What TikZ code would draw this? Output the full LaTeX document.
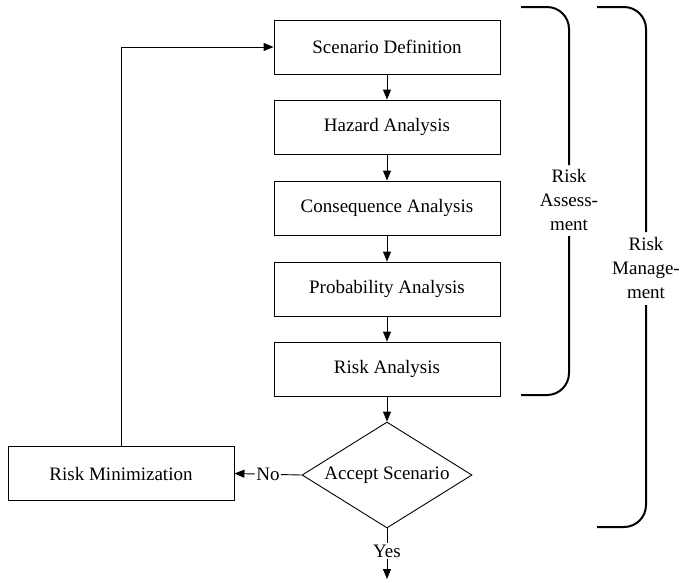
\documentclass[tikz,border=0pt]{standalone}
\usepackage{fontspec}
\setmainfont{Liberation Serif}
\usetikzlibrary{shapes.geometric,arrows.meta}
\begin{document}
\begin{tikzpicture}[x=1pt,y=-1pt,
  txt/.style={font=\fontsize{19}{24}\selectfont},
  stepbox/.style={draw,line width=0.9pt,minimum width=226pt,minimum height=54pt,inner sep=0pt,txt},
  decision/.style={draw,line width=0.9pt,diamond,aspect=1.6,inner sep=0pt,minimum width=170pt,minimum height=106pt,txt},
  flow/.style={line width=0.9pt,-{Triangle[length=10pt,width=8pt]}},
  bracket/.style={line width=2pt,rounded corners=22pt},
  lbl/.style={txt,fill=white,inner sep=1.5pt},
  brtext/.style={txt,align=center,inner sep=0pt}]
\useasboundingbox (0,0) rectangle (688,582);

% main chain of analysis steps
\node[stepbox] (sd) at (387,47)  {Scenario Definition};
\node[stepbox] (ha) at (387,127) {Hazard Analysis};
\node[stepbox] (ca) at (387,208) {Consequence Analysis};
\node[stepbox] (pa) at (387,289) {Probability Analysis};
\node[stepbox] (ra) at (387,369) {Risk Analysis};
\node[decision] (ac) at (387,475) {Accept Scenario};
\node[stepbox] (rm) at (121,473.5) {Risk Minimization};
\coordinate (out) at (387,579);

\draw[flow] (sd) -- (ha);
\draw[flow] (ha) -- (ca);
\draw[flow] (ca) -- (pa);
\draw[flow] (pa) -- (ra);
\draw[flow] (ra) -- (ac);
\draw[flow] (ac.west) -- node[lbl]{No} (rm.east);
\draw[flow] (ac.south) -- node[lbl,pos=0.45]{Yes} (out);
\draw[flow] (rm.north) |- (sd.west);

% bracket for risk assessment
\node[brtext] (rat) at (569,200) {Risk\\Assess-\\ment};
\coordinate (a1) at (521,7);
\coordinate (a2) at (569,165);
\coordinate (a3) at (569,236);
\coordinate (a4) at (521,395);
\draw[bracket] (a1) -- (569,7) -- (a2);
\draw[bracket] (a3) -- (569,395) -- (a4);

% bracket for risk management
\node[brtext] (rmt) at (646,268) {Risk\\Manage-\\ment};
\coordinate (m1) at (597,7);
\coordinate (m2) at (646,232);
\coordinate (m3) at (646,305);
\coordinate (m4) at (597,527);
\draw[bracket] (m1) -- (646,7) -- (m2);
\draw[bracket] (m3) -- (646,527) -- (m4);
\end{tikzpicture}
\end{document}
